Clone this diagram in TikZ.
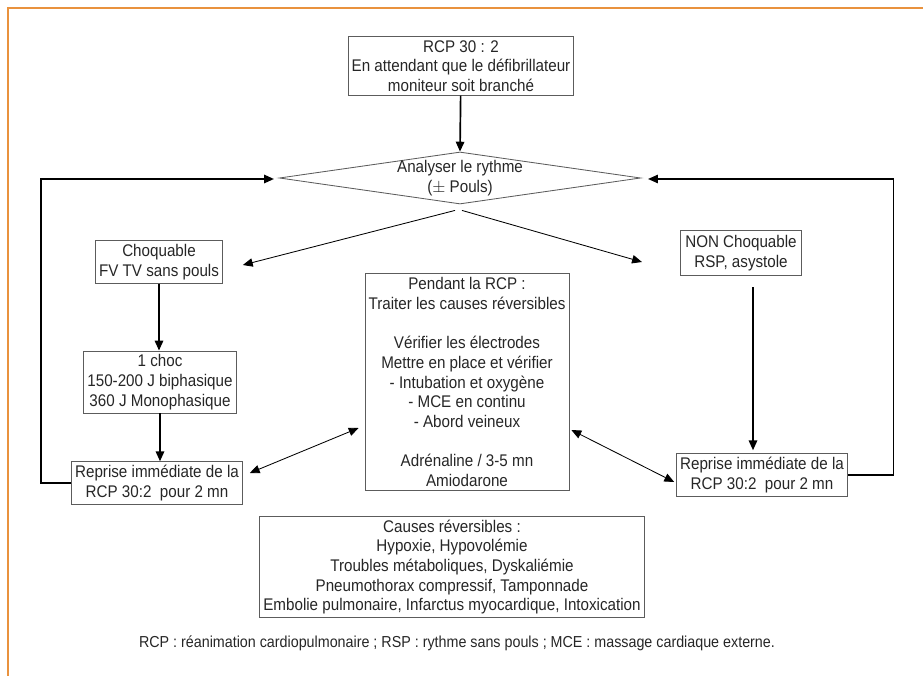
\documentclass[tikz,border=0pt]{standalone}
\usepackage{fontspec}
\setmainfont{Liberation Sans}[FakeStretch=0.9]
\usepackage{tikz}
\usetikzlibrary{arrows.meta,shapes.geometric,calc}

\definecolor{frameorange}{RGB}{233,146,62}
\definecolor{ink}{RGB}{38,38,38}
\tikzset{
  txt/.style={align=center, text=ink, font=\fontsize{12}{14}\selectfont},
  box/.style={txt, draw=ink!75, line width=0.6pt, inner sep=2.5pt},
  arr/.style={-{Triangle[length=7pt,width=6pt]}, line width=1.2pt, draw=black},
  thinarr/.style={-{Triangle[length=7pt,width=6pt]}, line width=0.6pt, draw=black},
  dblarr/.style={{Triangle[length=7pt,width=6pt]}-{Triangle[length=7pt,width=6pt]}, line width=0.6pt, draw=black}
}

\begin{document}
\begin{tikzpicture}[x=0.025cm,y=-0.025cm]
\useasboundingbox (0,0) rectangle (923,676);
\draw[frameorange, line width=1pt] (8,676) -- (8,8) -- (923,8);

% boites
\node[box] (top) at (461,66) {RCP 30 : 2\\En attendant que le défibrillateur\\moniteur soit branché};
\node[diamond, draw=ink!75, line width=0.6pt, minimum width=9.03cm, minimum height=1.3cm, inner sep=0pt] (rythme) at (460,178) {};
\node[txt] at (rythme) {Analyser le rythme\\($\pm$ Pouls)};
\node[box] (choq) at (159,262) {Choquable\\FV TV sans pouls};
\node[box] (choc) at (160,382) {1 choc\\150-200 J biphasique\\360 J Monophasique};
\node[box] (repL) at (157,483) {Reprise immédiate de la\\RCP 30:2~~pour 2 mn};
\node[box] (mid) at (467,382) {Pendant la RCP :\\Traiter les causes réversibles\\[14pt]Vérifier les électrodes\\Mettre en place et vérifier\\- Intubation et oxygène\\- MCE en continu\\- Abord veineux\\[14pt]Adrénaline / 3-5 mn\\Amiodarone};
\node[box, inner sep=3.5pt] (nonchoq) at (741,253) {NON Choquable\\RSP, asystole};
\node[box] (repR) at (762,475) {Reprise immédiate de la\\RCP 30:2~~pour 2 mn};
\node[box] (causes) at (452,567) {Causes réversibles :\\Hypoxie, Hypovolémie\\Troubles métaboliques, Dyskaliémie\\Pneumothorax compressif, Tamponnade\\Embolie pulmonaire, Infarctus myocardique, Intoxication};
\node[txt, font=\fontsize{11.3}{13}\selectfont] (legende) at (457,643) {RCP : réanimation cardiopulmonaire ; RSP : rythme sans pouls ; MCE : massage cardiaque externe.};

% fleches
\draw[arr] (top) -- (rythme.north);
\draw[thinarr] ($(rythme.south)+(-5,6)$) -- ($(choq.east)+(20,3)$);
\draw[thinarr] ($(rythme.south)+(2,6)$) -- ($(nonchoq.west)+(-38,9)$);
\draw[arr] (choq.south) -- (choq.south |- choc.north);
\draw[arr] (choc.south) -- (choc.south |- repL.north);
\draw[arr] ($(nonchoq.south)+(12,11)$) -- ($(repR.north)+(-9,-3)$);
\draw[arr] (repL.west) -- ++(-30,0) |- ($(rythme.west)+(-5,1)$);
\draw[arr, line width=0.9pt] (repR.east) -- ++(46,0) |- ($(rythme.east)+(7,1)$);
\draw[dblarr] ($(repL.east)+(7,-10)$) -- ($(mid.west)+(-6,46)$);
\draw[dblarr] ($(mid.east)+(2,48)$) -- ($(repR.west)+(-2,7)$);
\end{tikzpicture}
\end{document}
